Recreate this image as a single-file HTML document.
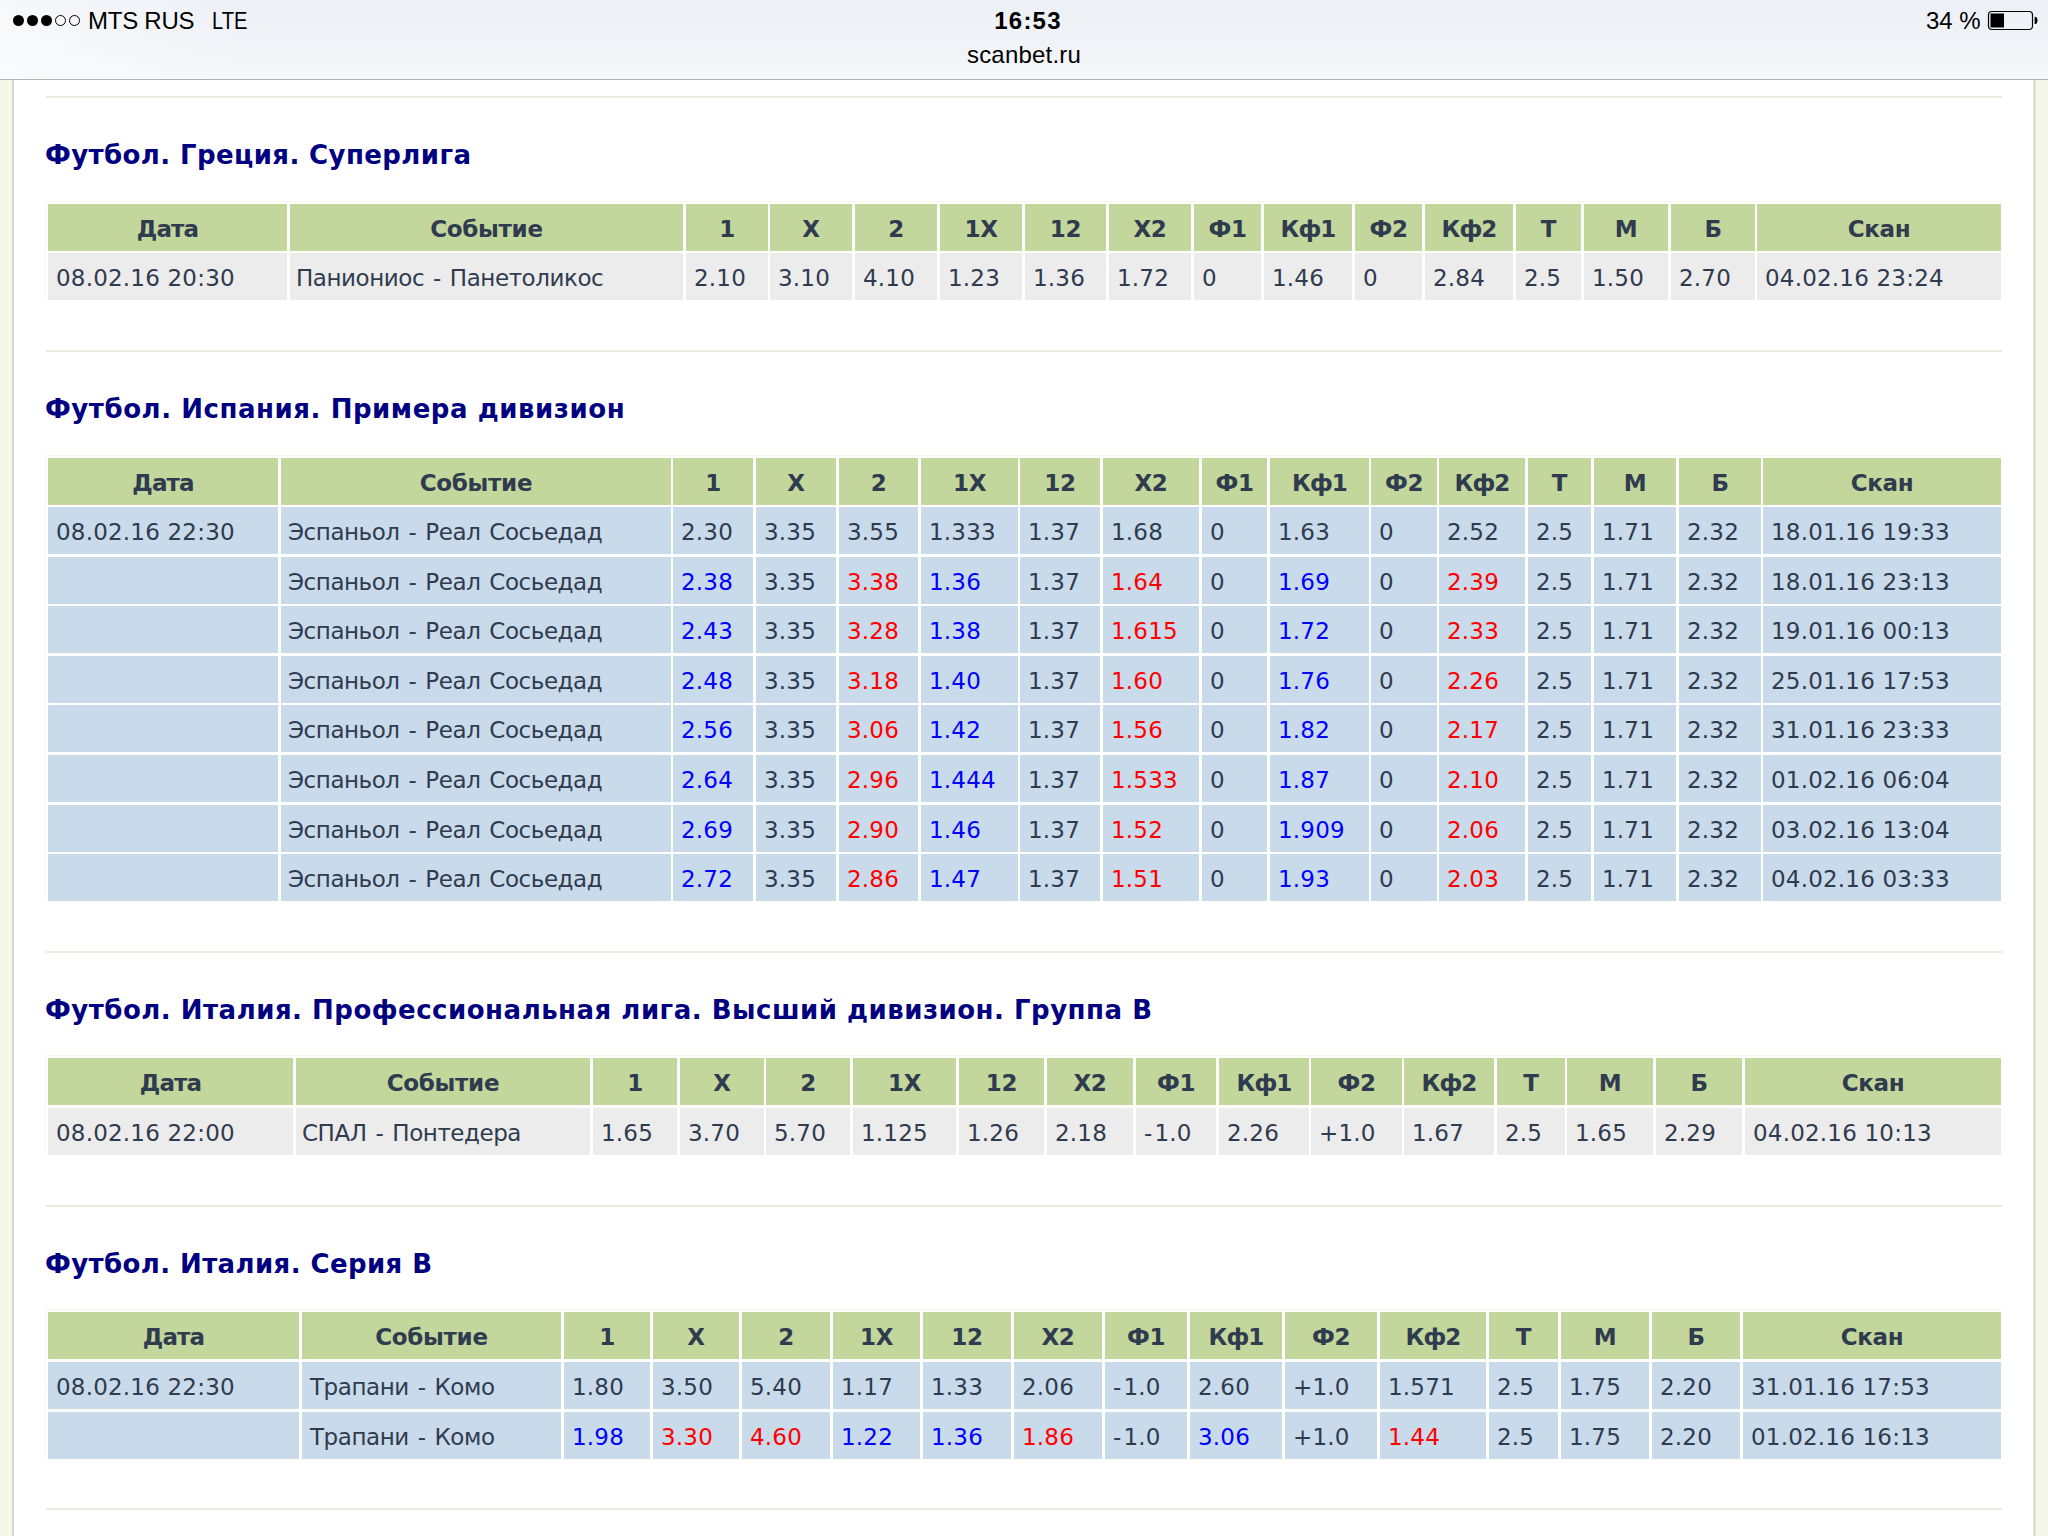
<!DOCTYPE html>
<html lang="ru">
<head>
<meta charset="utf-8">
<title>scanbet.ru</title>
<style>
html,body{margin:0;padding:0;}
body{width:2048px;height:1536px;overflow:hidden;background:#fff;position:relative;font-family:"DejaVu Sans","Liberation Sans",sans-serif;color:#2f3b4e;}
#bar{position:absolute;left:0;top:0;width:2048px;height:79px;background:linear-gradient(to right,rgba(255,255,255,.55) 0,rgba(255,255,255,0) 260px),linear-gradient(to bottom,#ecf0f6 0%,#f0f3f7 50%,#f5f7f8 100%);border-bottom:1px solid #b2b2b2;font-family:"Liberation Sans",sans-serif;color:#000;z-index:5;}
#bar .t{position:absolute;white-space:nowrap;font-size:24px;line-height:28px;}
.dot{position:absolute;top:15px;width:11px;height:11px;border-radius:50%;background:#000;box-sizing:border-box;}
.dot.o{background:transparent;border:1px solid #000;}
#sl{position:absolute;left:0;top:80px;width:12px;height:1456px;background:#f5f7ea;border-right:2px solid #d8dac8;}
#sr{position:absolute;left:2033px;top:80px;width:15px;height:1456px;background:linear-gradient(to right,#e8ead9 0,#e8ead9 1px,#d8dac8 1px,#d8dac8 2px,#e6e8d8 2px,#e6e8d8 3px,#f5f7ea 3px);}
.hr{position:absolute;left:46px;width:1956px;height:2px;background:#e9ebdf;}
h2{position:absolute;left:45px;margin:0;font-size:26px;letter-spacing:0.4px;line-height:58px;font-weight:bold;color:#000080;white-space:nowrap;}
.tb{position:absolute;left:45px;width:1957px;background:#fff;border-top:1px solid #f4f6ee;border-left:1px solid #f7f8f3;box-sizing:border-box;}
.rw{position:absolute;left:0;width:2048px;font-size:23px;white-space:nowrap;}
.c{position:absolute;top:0;height:100%;box-sizing:border-box;padding-left:8px;padding-top:2px;overflow:hidden;letter-spacing:0.2px;}
.h .c.n{letter-spacing:-0.9px;}
.c.e{letter-spacing:-0.45px;word-spacing:2.1px;}
.h .c{background:#c3d69b;font-weight:bold;text-align:center;padding-left:0;font-size:23px;letter-spacing:-0.3px;}
.g .c{background:#ececec;}
.u .c{background:#c9daeb;}
.m{margin-right:2px;}
.b{color:#0000ff;}
.r{color:#ff0000;}
</style>
</head>
<body>
<div id="bar">
<span class="dot" style="left:13px"></span><span class="dot" style="left:27px"></span><span class="dot" style="left:41px"></span><span class="dot o" style="left:55px"></span><span class="dot o" style="left:69px"></span>
<span class="t" style="left:88px;top:7px;letter-spacing:-0.25px">MTS RUS</span>
<span class="t" style="left:212px;top:7px;transform:scaleX(0.84);transform-origin:0 0">LTE</span>
<span class="t" style="left:928px;width:200px;text-align:center;top:7px;font-weight:bold;letter-spacing:1.2px">16:53</span>
<span class="t" style="left:924px;width:200px;text-align:center;top:41px;letter-spacing:0.2px">scanbet.ru</span>
<span class="t" style="left:1926px;top:7px">34 %</span>
<svg style="position:absolute;left:1986px;top:9px" width="54" height="24" viewBox="0 0 54 24"><rect x="2.5" y="2.5" width="44" height="18" rx="3.5" ry="3.5" fill="none" stroke="#000" stroke-width="1.2"/><rect x="4.5" y="4.5" width="13.5" height="14" fill="#000"/><path d="M48.6 7.7 a2.9 3.7 0 0 1 0 7.4z" fill="#000"/></svg>
</div>
<div id="sl"></div><div id="sr"></div>
<div class="hr" style="top:96px"></div>
<h2 style="top:126px;letter-spacing:0.4px">Футбол. Греция. Суперлига</h2>
<div class="tb" style="top:201px;height:99px"></div>
<div class="rw h" style="top:204px;height:47px;line-height:47px">
<div class="c n" style="left:48px;width:239px">Дата</div>
<div class="c" style="left:290px;width:393px">Событие</div>
<div class="c" style="left:686px;width:82px">1</div>
<div class="c" style="left:770px;width:82px">X</div>
<div class="c" style="left:855px;width:82px">2</div>
<div class="c" style="left:940px;width:82px">1X</div>
<div class="c" style="left:1025px;width:81px">12</div>
<div class="c" style="left:1109px;width:82px">X2</div>
<div class="c" style="left:1194px;width:67px">Ф1</div>
<div class="c n" style="left:1264px;width:88px">Кф1</div>
<div class="c" style="left:1355px;width:67px">Ф2</div>
<div class="c n" style="left:1425px;width:88px">Кф2</div>
<div class="c" style="left:1516px;width:65px">Т</div>
<div class="c" style="left:1584px;width:84px">М</div>
<div class="c" style="left:1671px;width:84px">Б</div>
<div class="c" style="left:1757px;width:244px">Скан</div>
</div>
<div class="rw g" style="top:253px;height:47px;line-height:47px">
<div class="c" style="left:48px;width:239px">08.02.16 20:30</div>
<div class="c e" style="left:290px;width:393px;padding-left:6px">Паниониос - Панетоликос</div>
<div class="c" style="left:686px;width:82px">2.10</div>
<div class="c" style="left:770px;width:82px">3.10</div>
<div class="c" style="left:855px;width:82px">4.10</div>
<div class="c" style="left:940px;width:82px">1.23</div>
<div class="c" style="left:1025px;width:81px">1.36</div>
<div class="c" style="left:1109px;width:82px">1.72</div>
<div class="c" style="left:1194px;width:67px">0</div>
<div class="c" style="left:1264px;width:88px">1.46</div>
<div class="c" style="left:1355px;width:67px">0</div>
<div class="c" style="left:1425px;width:88px">2.84</div>
<div class="c" style="left:1516px;width:65px">2.5</div>
<div class="c" style="left:1584px;width:84px">1.50</div>
<div class="c" style="left:1671px;width:84px">2.70</div>
<div class="c" style="left:1757px;width:244px">04.02.16 23:24</div>
</div>
<div class="hr" style="top:350px"></div>
<h2 style="top:380px;letter-spacing:0.55px">Футбол. Испания. Примера дивизион</h2>
<div class="tb" style="top:455px;height:446px"></div>
<div class="rw h" style="top:458px;height:47px;line-height:47px">
<div class="c n" style="left:48px;width:230px">Дата</div>
<div class="c" style="left:281px;width:390px">Событие</div>
<div class="c" style="left:673px;width:80px">1</div>
<div class="c" style="left:756px;width:80px">X</div>
<div class="c" style="left:839px;width:79px">2</div>
<div class="c" style="left:921px;width:97px">1X</div>
<div class="c" style="left:1020px;width:80px">12</div>
<div class="c" style="left:1103px;width:96px">X2</div>
<div class="c" style="left:1202px;width:65px">Ф1</div>
<div class="c n" style="left:1270px;width:99px">Кф1</div>
<div class="c" style="left:1371px;width:66px">Ф2</div>
<div class="c n" style="left:1439px;width:86px">Кф2</div>
<div class="c" style="left:1528px;width:63px">Т</div>
<div class="c" style="left:1594px;width:82px">М</div>
<div class="c" style="left:1679px;width:82px">Б</div>
<div class="c" style="left:1763px;width:238px">Скан</div>
</div>
<div class="rw u" style="top:507px;height:47px;line-height:47px">
<div class="c" style="left:48px;width:230px">08.02.16 22:30</div>
<div class="c e" style="left:281px;width:390px;padding-left:7px">Эспаньол - Реал Сосьедад</div>
<div class="c" style="left:673px;width:80px">2.30</div>
<div class="c" style="left:756px;width:80px">3.35</div>
<div class="c" style="left:839px;width:79px">3.55</div>
<div class="c" style="left:921px;width:97px">1.333</div>
<div class="c" style="left:1020px;width:80px">1.37</div>
<div class="c" style="left:1103px;width:96px">1.68</div>
<div class="c" style="left:1202px;width:65px">0</div>
<div class="c" style="left:1270px;width:99px">1.63</div>
<div class="c" style="left:1371px;width:66px">0</div>
<div class="c" style="left:1439px;width:86px">2.52</div>
<div class="c" style="left:1528px;width:63px">2.5</div>
<div class="c" style="left:1594px;width:82px">1.71</div>
<div class="c" style="left:1679px;width:82px">2.32</div>
<div class="c" style="left:1763px;width:238px">18.01.16 19:33</div>
</div>
<div class="rw u" style="top:557px;height:47px;line-height:47px">
<div class="c" style="left:48px;width:230px"></div>
<div class="c e" style="left:281px;width:390px;padding-left:7px">Эспаньол - Реал Сосьедад</div>
<div class="c" style="left:673px;width:80px"><span class="b">2.38</span></div>
<div class="c" style="left:756px;width:80px">3.35</div>
<div class="c" style="left:839px;width:79px"><span class="r">3.38</span></div>
<div class="c" style="left:921px;width:97px"><span class="b">1.36</span></div>
<div class="c" style="left:1020px;width:80px">1.37</div>
<div class="c" style="left:1103px;width:96px"><span class="r">1.64</span></div>
<div class="c" style="left:1202px;width:65px">0</div>
<div class="c" style="left:1270px;width:99px"><span class="b">1.69</span></div>
<div class="c" style="left:1371px;width:66px">0</div>
<div class="c" style="left:1439px;width:86px"><span class="r">2.39</span></div>
<div class="c" style="left:1528px;width:63px">2.5</div>
<div class="c" style="left:1594px;width:82px">1.71</div>
<div class="c" style="left:1679px;width:82px">2.32</div>
<div class="c" style="left:1763px;width:238px">18.01.16 23:13</div>
</div>
<div class="rw u" style="top:606px;height:47px;line-height:47px">
<div class="c" style="left:48px;width:230px"></div>
<div class="c e" style="left:281px;width:390px;padding-left:7px">Эспаньол - Реал Сосьедад</div>
<div class="c" style="left:673px;width:80px"><span class="b">2.43</span></div>
<div class="c" style="left:756px;width:80px">3.35</div>
<div class="c" style="left:839px;width:79px"><span class="r">3.28</span></div>
<div class="c" style="left:921px;width:97px"><span class="b">1.38</span></div>
<div class="c" style="left:1020px;width:80px">1.37</div>
<div class="c" style="left:1103px;width:96px"><span class="r">1.615</span></div>
<div class="c" style="left:1202px;width:65px">0</div>
<div class="c" style="left:1270px;width:99px"><span class="b">1.72</span></div>
<div class="c" style="left:1371px;width:66px">0</div>
<div class="c" style="left:1439px;width:86px"><span class="r">2.33</span></div>
<div class="c" style="left:1528px;width:63px">2.5</div>
<div class="c" style="left:1594px;width:82px">1.71</div>
<div class="c" style="left:1679px;width:82px">2.32</div>
<div class="c" style="left:1763px;width:238px">19.01.16 00:13</div>
</div>
<div class="rw u" style="top:656px;height:47px;line-height:47px">
<div class="c" style="left:48px;width:230px"></div>
<div class="c e" style="left:281px;width:390px;padding-left:7px">Эспаньол - Реал Сосьедад</div>
<div class="c" style="left:673px;width:80px"><span class="b">2.48</span></div>
<div class="c" style="left:756px;width:80px">3.35</div>
<div class="c" style="left:839px;width:79px"><span class="r">3.18</span></div>
<div class="c" style="left:921px;width:97px"><span class="b">1.40</span></div>
<div class="c" style="left:1020px;width:80px">1.37</div>
<div class="c" style="left:1103px;width:96px"><span class="r">1.60</span></div>
<div class="c" style="left:1202px;width:65px">0</div>
<div class="c" style="left:1270px;width:99px"><span class="b">1.76</span></div>
<div class="c" style="left:1371px;width:66px">0</div>
<div class="c" style="left:1439px;width:86px"><span class="r">2.26</span></div>
<div class="c" style="left:1528px;width:63px">2.5</div>
<div class="c" style="left:1594px;width:82px">1.71</div>
<div class="c" style="left:1679px;width:82px">2.32</div>
<div class="c" style="left:1763px;width:238px">25.01.16 17:53</div>
</div>
<div class="rw u" style="top:705px;height:47px;line-height:47px">
<div class="c" style="left:48px;width:230px"></div>
<div class="c e" style="left:281px;width:390px;padding-left:7px">Эспаньол - Реал Сосьедад</div>
<div class="c" style="left:673px;width:80px"><span class="b">2.56</span></div>
<div class="c" style="left:756px;width:80px">3.35</div>
<div class="c" style="left:839px;width:79px"><span class="r">3.06</span></div>
<div class="c" style="left:921px;width:97px"><span class="b">1.42</span></div>
<div class="c" style="left:1020px;width:80px">1.37</div>
<div class="c" style="left:1103px;width:96px"><span class="r">1.56</span></div>
<div class="c" style="left:1202px;width:65px">0</div>
<div class="c" style="left:1270px;width:99px"><span class="b">1.82</span></div>
<div class="c" style="left:1371px;width:66px">0</div>
<div class="c" style="left:1439px;width:86px"><span class="r">2.17</span></div>
<div class="c" style="left:1528px;width:63px">2.5</div>
<div class="c" style="left:1594px;width:82px">1.71</div>
<div class="c" style="left:1679px;width:82px">2.32</div>
<div class="c" style="left:1763px;width:238px">31.01.16 23:33</div>
</div>
<div class="rw u" style="top:755px;height:47px;line-height:47px">
<div class="c" style="left:48px;width:230px"></div>
<div class="c e" style="left:281px;width:390px;padding-left:7px">Эспаньол - Реал Сосьедад</div>
<div class="c" style="left:673px;width:80px"><span class="b">2.64</span></div>
<div class="c" style="left:756px;width:80px">3.35</div>
<div class="c" style="left:839px;width:79px"><span class="r">2.96</span></div>
<div class="c" style="left:921px;width:97px"><span class="b">1.444</span></div>
<div class="c" style="left:1020px;width:80px">1.37</div>
<div class="c" style="left:1103px;width:96px"><span class="r">1.533</span></div>
<div class="c" style="left:1202px;width:65px">0</div>
<div class="c" style="left:1270px;width:99px"><span class="b">1.87</span></div>
<div class="c" style="left:1371px;width:66px">0</div>
<div class="c" style="left:1439px;width:86px"><span class="r">2.10</span></div>
<div class="c" style="left:1528px;width:63px">2.5</div>
<div class="c" style="left:1594px;width:82px">1.71</div>
<div class="c" style="left:1679px;width:82px">2.32</div>
<div class="c" style="left:1763px;width:238px">01.02.16 06:04</div>
</div>
<div class="rw u" style="top:805px;height:47px;line-height:47px">
<div class="c" style="left:48px;width:230px"></div>
<div class="c e" style="left:281px;width:390px;padding-left:7px">Эспаньол - Реал Сосьедад</div>
<div class="c" style="left:673px;width:80px"><span class="b">2.69</span></div>
<div class="c" style="left:756px;width:80px">3.35</div>
<div class="c" style="left:839px;width:79px"><span class="r">2.90</span></div>
<div class="c" style="left:921px;width:97px"><span class="b">1.46</span></div>
<div class="c" style="left:1020px;width:80px">1.37</div>
<div class="c" style="left:1103px;width:96px"><span class="r">1.52</span></div>
<div class="c" style="left:1202px;width:65px">0</div>
<div class="c" style="left:1270px;width:99px"><span class="b">1.909</span></div>
<div class="c" style="left:1371px;width:66px">0</div>
<div class="c" style="left:1439px;width:86px"><span class="r">2.06</span></div>
<div class="c" style="left:1528px;width:63px">2.5</div>
<div class="c" style="left:1594px;width:82px">1.71</div>
<div class="c" style="left:1679px;width:82px">2.32</div>
<div class="c" style="left:1763px;width:238px">03.02.16 13:04</div>
</div>
<div class="rw u" style="top:854px;height:47px;line-height:47px">
<div class="c" style="left:48px;width:230px"></div>
<div class="c e" style="left:281px;width:390px;padding-left:7px">Эспаньол - Реал Сосьедад</div>
<div class="c" style="left:673px;width:80px"><span class="b">2.72</span></div>
<div class="c" style="left:756px;width:80px">3.35</div>
<div class="c" style="left:839px;width:79px"><span class="r">2.86</span></div>
<div class="c" style="left:921px;width:97px"><span class="b">1.47</span></div>
<div class="c" style="left:1020px;width:80px">1.37</div>
<div class="c" style="left:1103px;width:96px"><span class="r">1.51</span></div>
<div class="c" style="left:1202px;width:65px">0</div>
<div class="c" style="left:1270px;width:99px"><span class="b">1.93</span></div>
<div class="c" style="left:1371px;width:66px">0</div>
<div class="c" style="left:1439px;width:86px"><span class="r">2.03</span></div>
<div class="c" style="left:1528px;width:63px">2.5</div>
<div class="c" style="left:1594px;width:82px">1.71</div>
<div class="c" style="left:1679px;width:82px">2.32</div>
<div class="c" style="left:1763px;width:238px">04.02.16 03:33</div>
</div>
<div class="hr" style="top:951px"></div>
<h2 style="top:981px;letter-spacing:0.5px">Футбол. Италия. Профессиональная лига. Высший дивизион. Группа B</h2>
<div class="tb" style="top:1055px;height:100px"></div>
<div class="rw h" style="top:1058px;height:47px;line-height:47px">
<div class="c n" style="left:48px;width:245px">Дата</div>
<div class="c" style="left:296px;width:294px">Событие</div>
<div class="c" style="left:593px;width:84px">1</div>
<div class="c" style="left:680px;width:84px">X</div>
<div class="c" style="left:766px;width:84px">2</div>
<div class="c" style="left:853px;width:103px">1X</div>
<div class="c" style="left:959px;width:85px">12</div>
<div class="c" style="left:1047px;width:86px">X2</div>
<div class="c" style="left:1136px;width:80px">Ф1</div>
<div class="c n" style="left:1219px;width:90px">Кф1</div>
<div class="c" style="left:1311px;width:91px">Ф2</div>
<div class="c n" style="left:1404px;width:90px">Кф2</div>
<div class="c" style="left:1497px;width:68px">Т</div>
<div class="c" style="left:1567px;width:86px">М</div>
<div class="c" style="left:1656px;width:86px">Б</div>
<div class="c" style="left:1745px;width:256px">Скан</div>
</div>
<div class="rw g" style="top:1108px;height:47px;line-height:47px">
<div class="c" style="left:48px;width:245px">08.02.16 22:00</div>
<div class="c e" style="left:296px;width:294px;padding-left:6px">СПАЛ - Понтедера</div>
<div class="c" style="left:593px;width:84px">1.65</div>
<div class="c" style="left:680px;width:84px">3.70</div>
<div class="c" style="left:766px;width:84px">5.70</div>
<div class="c" style="left:853px;width:103px">1.125</div>
<div class="c" style="left:959px;width:85px">1.26</div>
<div class="c" style="left:1047px;width:86px">2.18</div>
<div class="c" style="left:1136px;width:80px"><span class="m">-</span>1.0</div>
<div class="c" style="left:1219px;width:90px">2.26</div>
<div class="c" style="left:1311px;width:91px">+1.0</div>
<div class="c" style="left:1404px;width:90px">1.67</div>
<div class="c" style="left:1497px;width:68px">2.5</div>
<div class="c" style="left:1567px;width:86px">1.65</div>
<div class="c" style="left:1656px;width:86px">2.29</div>
<div class="c" style="left:1745px;width:256px">04.02.16 10:13</div>
</div>
<div class="hr" style="top:1205px"></div>
<h2 style="top:1235px;letter-spacing:0.4px">Футбол. Италия. Серия B</h2>
<div class="tb" style="top:1309px;height:150px"></div>
<div class="rw h" style="top:1312px;height:47px;line-height:47px">
<div class="c n" style="left:48px;width:251px">Дата</div>
<div class="c" style="left:302px;width:259px">Событие</div>
<div class="c" style="left:564px;width:86px">1</div>
<div class="c" style="left:653px;width:86px">X</div>
<div class="c" style="left:742px;width:88px">2</div>
<div class="c" style="left:833px;width:87px">1X</div>
<div class="c" style="left:923px;width:88px">12</div>
<div class="c" style="left:1014px;width:88px">X2</div>
<div class="c" style="left:1105px;width:82px">Ф1</div>
<div class="c n" style="left:1190px;width:92px">Кф1</div>
<div class="c" style="left:1285px;width:92px">Ф2</div>
<div class="c n" style="left:1380px;width:106px">Кф2</div>
<div class="c" style="left:1489px;width:69px">Т</div>
<div class="c" style="left:1561px;width:88px">М</div>
<div class="c" style="left:1652px;width:88px">Б</div>
<div class="c" style="left:1743px;width:258px">Скан</div>
</div>
<div class="rw u" style="top:1362px;height:47px;line-height:47px">
<div class="c" style="left:48px;width:251px">08.02.16 22:30</div>
<div class="c e" style="left:302px;width:259px">Трапани - Комо</div>
<div class="c" style="left:564px;width:86px">1.80</div>
<div class="c" style="left:653px;width:86px">3.50</div>
<div class="c" style="left:742px;width:88px">5.40</div>
<div class="c" style="left:833px;width:87px">1.17</div>
<div class="c" style="left:923px;width:88px">1.33</div>
<div class="c" style="left:1014px;width:88px">2.06</div>
<div class="c" style="left:1105px;width:82px"><span class="m">-</span>1.0</div>
<div class="c" style="left:1190px;width:92px">2.60</div>
<div class="c" style="left:1285px;width:92px">+1.0</div>
<div class="c" style="left:1380px;width:106px">1.571</div>
<div class="c" style="left:1489px;width:69px">2.5</div>
<div class="c" style="left:1561px;width:88px">1.75</div>
<div class="c" style="left:1652px;width:88px">2.20</div>
<div class="c" style="left:1743px;width:258px">31.01.16 17:53</div>
</div>
<div class="rw u" style="top:1412px;height:47px;line-height:47px">
<div class="c" style="left:48px;width:251px"></div>
<div class="c e" style="left:302px;width:259px">Трапани - Комо</div>
<div class="c" style="left:564px;width:86px"><span class="b">1.98</span></div>
<div class="c" style="left:653px;width:86px"><span class="r">3.30</span></div>
<div class="c" style="left:742px;width:88px"><span class="r">4.60</span></div>
<div class="c" style="left:833px;width:87px"><span class="b">1.22</span></div>
<div class="c" style="left:923px;width:88px"><span class="b">1.36</span></div>
<div class="c" style="left:1014px;width:88px"><span class="r">1.86</span></div>
<div class="c" style="left:1105px;width:82px"><span class="m">-</span>1.0</div>
<div class="c" style="left:1190px;width:92px"><span class="b">3.06</span></div>
<div class="c" style="left:1285px;width:92px">+1.0</div>
<div class="c" style="left:1380px;width:106px"><span class="r">1.44</span></div>
<div class="c" style="left:1489px;width:69px">2.5</div>
<div class="c" style="left:1561px;width:88px">1.75</div>
<div class="c" style="left:1652px;width:88px">2.20</div>
<div class="c" style="left:1743px;width:258px">01.02.16 16:13</div>
</div>
<div class="hr" style="top:1508px"></div>
</body>
</html>
